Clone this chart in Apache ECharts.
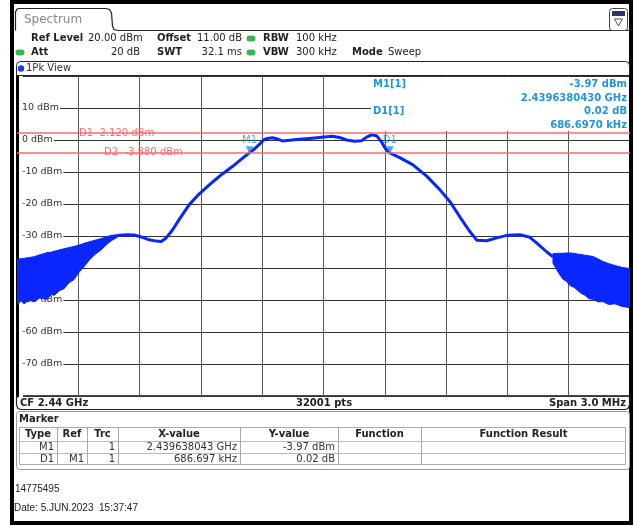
<!DOCTYPE html>
<html><head><meta charset="utf-8">
<script src="https://cdn.jsdelivr.net/npm/echarts@6/dist/echarts.min.js"></script>
<style>html,body{margin:0;padding:0;background:#fff}#c{width:634px;height:526px}</style>
</head><body><div id="c"></div>
<script>
// Frequency offsets from CF 2.44 GHz (MHz), levels in dBm
const traceFreq  = [-1.039,-1.000,-0.961,-0.926,-0.892,-0.853,-0.819,-0.794,-0.770,-0.740,-0.706,-0.657,-0.608,-0.544,-0.495,-0.446,-0.402,-0.363,-0.338,-0.314,-0.294,-0.275,-0.250,-0.225,-0.201,-0.167,-0.118,-0.069,-0.020,0.015,0.044,0.078,0.113,0.152,0.186,0.211,0.235,0.260,0.284,0.304,0.324,0.373,0.436,0.505,0.569,0.618,0.667,0.716,0.750,0.799,0.848,0.897,0.961,1.010,1.044,1.093,1.123];
const traceLevel = [-30.5,-29.8,-29.6,-29.7,-30.3,-31.2,-31.6,-31.7,-30.6,-28.2,-24.8,-20.2,-16.8,-13.2,-10.6,-8.3,-6.0,-4.0,-2.8,-1.4,0.0,0.5,0.7,0.3,-0.3,-0.1,0.2,0.5,0.8,1.0,1.2,0.8,0.0,-0.4,-0.2,0.9,1.6,1.3,-0.6,-2.8,-4.0,-5.5,-7.7,-11.3,-15.5,-19.2,-24.0,-28.6,-31.3,-31.5,-30.6,-29.8,-29.6,-30.4,-32.2,-35.0,-36.5];
// noisy skirts: lower / upper envelope
const leftBandFreq = [-1.500,-1.480,-1.466,-1.440,-1.417,-1.390,-1.353,-1.330,-1.319,-1.290,-1.270,-1.245,-1.221,-1.195,-1.172,-1.150,-1.123,-1.088,-1.060,-1.039,-1.010];
const leftBandLow  = [-51.5,-50.2,-51.2,-50.0,-50.6,-49.4,-49.8,-48.2,-48.6,-47.0,-46.5,-44.6,-43.6,-41.2,-39.6,-37.8,-36.0,-34.3,-32.6,-31.5,-30.4];
const leftBandHigh = [-37.3,-37.1,-37.0,-36.7,-36.5,-35.9,-35.2,-35.0,-34.8,-34.3,-34.0,-33.6,-33.3,-32.8,-32.3,-31.9,-31.4,-30.8,-30.2,-29.8,-29.6];
const rightBandFreq = [1.123,1.150,1.172,1.190,1.206,1.225,1.240,1.260,1.279,1.300,1.319,1.345,1.368,1.395,1.426,1.460,1.500];
const rightBandLow  = [-38.5,-41.5,-43.5,-44.2,-45.5,-46.0,-46.8,-47.9,-48.5,-49.6,-49.8,-50.6,-50.5,-51.4,-51.2,-52.0,-52.4];
const rightBandHigh = [-35.5,-35.4,-35.4,-35.3,-35.3,-35.4,-35.6,-35.8,-36.0,-36.2,-36.4,-37.2,-38.0,-38.6,-39.2,-39.8,-40.2];
const displayLineLevels = [2.12, -3.88];
const displayLineLabels = ['D1  2.120 dBm', 'D2  -3.880 dBm'];
const displayLabelFreq = [-1.196, -1.074];
const markerNames = ['M1', 'D1'];
const markerFreq  = [-0.361957, 0.324740];
const markerLevel = [-3.97, -3.95];
const yMin = -80, yMax = 20, yStep = 10;
const xMin = -1.5, xMax = 1.5, xStep = 0.3;
const headerRow1 = [['Ref Level',31,true],['20.00 dBm',88,false],['Offset',157,true],['11.00 dB',197,false],['RBW',263,true],['100 kHz',296,false]];
const headerRow2 = [['Att',31,true],['SWT',157,true],['VBW',263,true],['300 kHz',296,false],['Mode',352,true],['Sweep',388,false]];
const markerInfoLeft  = ['M1[1]', '', 'D1[1]', ''];
const markerInfoRight = ['-3.97 dBm', '2.4396380430 GHz', '0.02 dB', '686.6970 kHz'];
const tableHeaders = ['Type','Ref','Trc','X-value','Y-value','Function','Function Result'];
const tableRows = [['M1','','1','2.439638043 GHz','-3.97 dBm','',''],['D1','M1','1','686.697 kHz','0.02 dB','','']];

const BLUE = '#0a26ff', MBLUE = '#1e96dc', RED = '#ff6a6a';
const F = "'DejaVu Sans', Verdana, sans-serif";
const chart = echarts.init(document.getElementById('c'), null, {renderer:'canvas'});

function bandSeries(freq, low, high) {
  const data = freq.map((f, i) => [f, low[i], high[i]]);
  return {
    type: 'custom', z: 3, clip: true, silent: true,
    encode: {x: 0, y: [1, 2]},
    data: data,
    renderItem(params, api) {
      if (params.dataIndexInside !== 0) return null;
      const up = data.map(d => api.coord([d[0], d[2]]));
      const dn = data.slice().reverse().map(d => api.coord([d[0], d[1]]));
      return {type: 'polygon', shape: {points: up.concat(dn)}, style: {fill: BLUE, stroke: BLUE, lineWidth: 1}};
    }
  };
}
function txt(x, y, s, o) {
  o = o || {};
  return {type: 'text', x: x, y: y, z: 20, silent: true, style: {text: s, fill: o.color || '#222',
    font: (o.bold ? 'bold ' : '') + (o.size || 10) + 'px ' + (o.family || F),
    textAlign: o.align || 'left', textVerticalAlign: 'middle'}};
}
function pl(points, o) {
  o = o || {};
  return {type: 'polyline', z: o.z || 5, silent: true, shape: {points: points}, style: {fill: null, stroke: o.color || '#222', lineWidth: o.w || 1.2}};
}
const G = [];
// outer frame
G.push({type:'rect', z:1, shape:{x:12, y:2, width:619, height:521}, style:{fill:'none', stroke:'#000', lineWidth:4}});
// tab
G.push(pl([[15.5,30.5],[15.5,12],[17,9],[19.5,8.5],[106,8.5],[109.5,9.5],[111.5,13],[112.5,26],[114,29.5],[118,30.5],[630,30.5]]));
G.push(txt(24, 19.5, 'Spectrum', {size:12, color:'#8a8a8a'}));
// icon
G.push({type:'rect', z:5, shape:{x:609.5, y:8.5, width:18, height:22, r:3}, style:{fill:'#fff', stroke:'#444', lineWidth:1}});
G.push({type:'rect', z:6, shape:{x:612, y:11, width:13, height:5}, style:{fill:'#2a3668'}});
G.push({type:'polygon', z:6, shape:{points:[[614.5,19],[622.5,19],[618.5,26]]}, style:{fill:'none', stroke:'#555', lineWidth:1}});
// header rows
const r1 = 38.5, r2 = 52.5;
headerRow1.forEach(h => G.push(txt(h[1], r1, h[0], {bold:h[2]})));
headerRow2.forEach(h => G.push(txt(h[1], r2, h[0], {bold:h[2]})));
G.push(txt(140, r2, '20 dB', {align:'right'}));
G.push(txt(242, r2, '32.1 ms', {align:'right'}));
[[251,r1],[20,r2],[251,r2]].forEach(p => G.push({type:'rect', z:6, shape:{x:p[0]-4.5, y:p[1]-3, width:9, height:6, r:3}, style:{fill:'#3fb34f'}}));
// 1Pk view bar
G.push({type:'rect', z:5, shape:{x:16.5, y:61.5, width:613, height:14, r:[4,4,0,0]}, style:{fill:'#fff', stroke:'#222', lineWidth:1}});
G.push({type:'circle', z:6, shape:{cx:21, cy:68.5, r:3.2}, style:{fill:'#1b3de0'}});
G.push(txt(26, 68.5, '1Pk View', {size:10, color:'#333'}));
// marker info box
G.push({type:'rect', z:1, shape:{x:371, y:77, width:258, height:54}, style:{fill:'#fff'}});
const infoY = [84, 98, 111.5, 125];
markerInfoLeft.forEach((s, i) => { if (s) G.push(txt(373, infoY[i], s, {bold:true, color:MBLUE})); });
markerInfoRight.forEach((s, i) => G.push(txt(627, infoY[i], s, {bold:true, color:MBLUE, align:'right'})));
// bottom bar
G.push(pl([[16.5,396.5],[16.5,405],[18,408.5],[21,409.5],[625,409.5],[628,408.5],[629.5,405],[629.5,396.5]]));
G.push(txt(20, 403, 'CF 2.44 GHz', {bold:true}));
G.push(txt(324, 403, '32001 pts', {bold:true, align:'center'}));
G.push(txt(626, 403, 'Span 3.0 MHz', {bold:true, align:'right'}));
// marker table
G.push({type:'rect', z:4, shape:{x:16.5, y:411.5, width:613, height:58, r:3}, style:{fill:'#fff', stroke:'#999', lineWidth:1}});
G.push(txt(19, 419, 'Marker', {bold:true}));
const colX = [19, 57, 87, 118, 240, 338, 421, 626];
const rowY = [427, 441, 453, 465];
G.push({type:'rect', z:5, shape:{x:19.5, y:427.5, width:606, height:37}, style:{fill:'none', stroke:'#aaa', lineWidth:1}});
for (let r = 1; r < rowY.length - 1; r++) G.push(pl([[19.5, rowY[r]+0.5], [625.5, rowY[r]+0.5]], {color:'#bbb', w:1}));
for (let c = 1; c < colX.length - 1; c++) G.push(pl([[colX[c]+0.5, 427.5], [colX[c]+0.5, 464.5]], {color:'#aaa', w:1}));
tableHeaders.forEach((h, c) => G.push(txt((colX[c] + colX[c+1]) / 2, 434.5, h, {bold:true, align:'center'})));
tableRows.forEach((row, r) => row.forEach((s, c) => { if (s) G.push(txt(colX[c+1] - 3, 447.5 + r * 12, s, {align:'right', color:'#333'})); }));
// footer
G.push(txt(15, 489, '14775495', {family:"'Liberation Sans', Arial, sans-serif", size:10, color:'#222'}));
G.push(txt(14, 508, 'Date: 5.JUN.2023  15:37:47', {family:"'Liberation Sans', Arial, sans-serif", size:10, color:'#222'}));

chart.setOption({
  animation: false,
  backgroundColor: '#fff',
  grid: {left: 17, right: 4, top: 76, bottom: 130, show: true, borderColor: '#111', borderWidth: 1.5},
  xAxis: {type: 'value', min: xMin, max: xMax, interval: xStep,
    axisLine: {show: false}, axisTick: {show: false}, axisLabel: {show: false},
    splitLine: {show: true, lineStyle: {color: '#5a5a5a', width: 1}}},
  yAxis: {type: 'value', min: yMin, max: yMax, interval: yStep,
    axisLine: {show: true, onZero: false, lineStyle: {color: '#000', width: 3}}, axisTick: {show: false},
    splitLine: {show: true, lineStyle: {color: '#333', width: 1}},
    axisLabel: {inside: true, margin: 2, color: '#333', fontFamily: F, fontSize: 9.5,
      backgroundColor: '#fff', padding: [1, 1, 1, 3],
      formatter: v => (v === yMax || v === yMin) ? '' : v + ' dBm'}},
  graphic: G,
  series: [
    {type: 'line', z: 2, silent: true, symbol: 'none', data: [], markLine: {silent: true, symbol: 'none',
      lineStyle: {color: RED, width: 1.5, type: 'solid'}, label: {show: false},
      data: displayLineLevels.map(v => ({yAxis: v}))}},
    bandSeries(leftBandFreq, leftBandLow, leftBandHigh),
    bandSeries(rightBandFreq, rightBandLow, rightBandHigh),
    {type: 'line', z: 3, silent: true, symbol: 'none', data: traceFreq.map((f, i) => [f, traceLevel[i]]),
      lineStyle: {color: BLUE, width: 3}},
    {type: 'scatter', z: 4, silent: true, symbolSize: 0, data: displayLabelFreq.map((f, i) => [f, displayLineLevels[i]]),
      label: {show: true, position: 'right', distance: 0, color: '#ff4a4a', fontFamily: F, fontSize: 10,
        formatter: p => displayLineLabels[p.dataIndex]}},
    {type: 'scatter', z: 5, silent: true, data: markerFreq.map((f, i) => [f, markerLevel[i]]),
      symbol: 'triangle', symbolRotate: 180, symbolSize: [8, 7], symbolOffset: [0, -3],
      itemStyle: {color: MBLUE},
      label: {show: true, position: 'top', distance: 1, color: MBLUE, fontFamily: F, fontSize: 10,
        formatter: p => markerNames[p.dataIndex]}}
  ]
});
</script></body></html>
